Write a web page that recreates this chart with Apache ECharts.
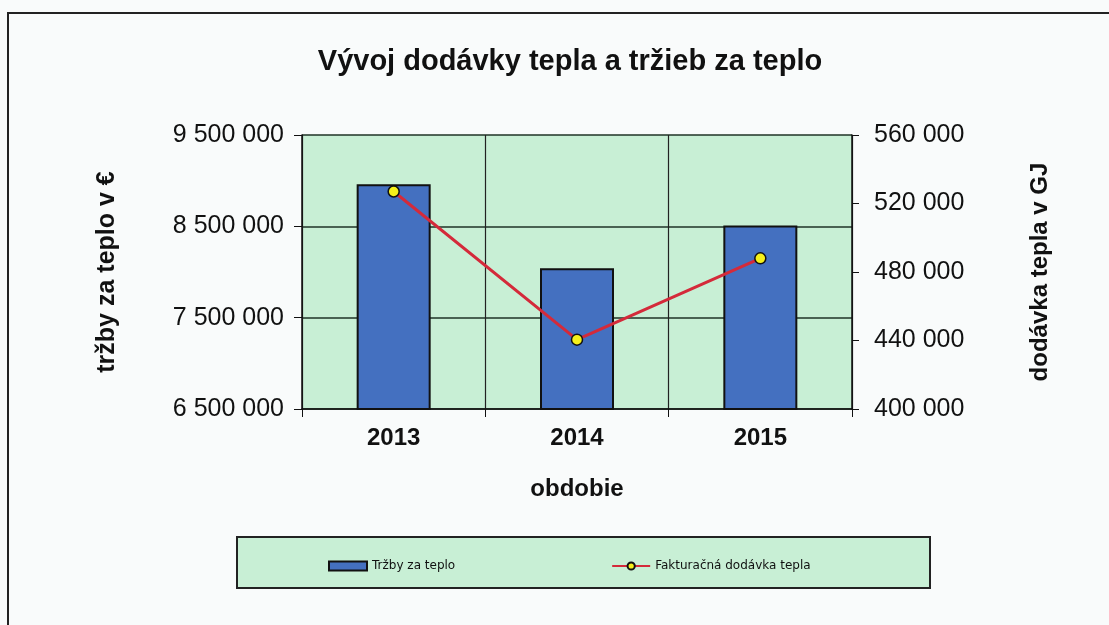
<!DOCTYPE html>
<html>
<head>
<meta charset="utf-8">
<script src="https://cdn.jsdelivr.net/npm/echarts@6/dist/echarts.min.js"></script>
<style>
  html, body { margin: 0; padding: 0; background: #f9fbfb; }
  #chart { width: 1109px; height: 625px; }
</style>
</head>
<body>
<div id="chart"></div>
<script>
const years = ["2013", "2014", "2015"];
const trzby = [8960000, 8040000, 8510000];
const dodavka = [527000, 440500, 488000];
const leftTicks = { min: 6500000, max: 9500000, interval: 1000000 };
const rightTicks = { min: 400000, max: 560000, interval: 40000 };

const fmt = (v) => String(v).replace(/\B(?=(\d{3})+(?!\d))/g, " ");
const font = "Liberation Sans, Arial, sans-serif";
const plotGreen = "#c8efd5";

const chart = echarts.init(document.getElementById("chart"));

chart.setOption({
  backgroundColor: "#f9fbfb",
  animation: false,
  title: {
    text: "Vývoj dodávky tepla a tržieb za teplo",
    left: 565,
    top: 42,
    textAlign: "center",
    textStyle: { fontFamily: font, fontSize: 29, fontWeight: "bold", color: "#111" }
  },
  graphic: [
    // outer chart frame
    { type: "rect", shape: { x: 8, y: 13, width: 1120, height: 640 }, style: { fill: "none", stroke: "#222", lineWidth: 2 }, z: 0 },
    // legend box
    { type: "rect", shape: { x: 237, y: 537, width: 693, height: 51 }, style: { fill: plotGreen, stroke: "#222", lineWidth: 2 }, z: 0 }
  ],
  legend: {
    left: 323,
    top: 555,
    itemWidth: 38,
    itemHeight: 9,
    itemGap: 156,
    textStyle: { fontFamily: "DejaVu Sans, sans-serif", fontSize: 12, color: "#111" },
    data: [
      { name: "Tržby za teplo", icon: "rect" },
      { name: "Fakturačná dodávka tepla" }
    ]
  },
  grid: { left: 302, right: 257, top: 135, bottom: 216, show: true, backgroundColor: plotGreen, borderWidth: 0 },
  xAxis: {
    type: "category",
    data: years,
    name: "obdobie",
    nameLocation: "middle",
    nameGap: 68,
    nameTextStyle: { fontFamily: font, fontSize: 24, fontWeight: "bold", color: "#111" },
    axisLine: { lineStyle: { color: "#111", width: 1.5 } },
    axisTick: { show: true, length: 8, lineStyle: { color: "#111" } },
    axisLabel: { margin: 17, fontFamily: font, fontSize: 24, fontWeight: "bold", color: "#111" },
    splitLine: { show: true, lineStyle: { color: "#222", width: 1.2 } }
  },
  yAxis: [
    {
      type: "value",
      min: leftTicks.min,
      max: leftTicks.max,
      interval: leftTicks.interval,
      name: "tržby za teplo v €",
      nameLocation: "middle",
      nameRotate: 90,
      nameGap: 182,
      nameTextStyle: { fontFamily: font, fontSize: 25, fontWeight: "bold", color: "#111" },
      axisLine: { show: true, lineStyle: { color: "#111", width: 1.5 } },
      axisTick: { show: true, length: 8, lineStyle: { color: "#111" } },
      axisLabel: { margin: 18, fontFamily: font, fontSize: 25, color: "#111", formatter: fmt },
      splitLine: { show: true, lineStyle: { color: "#1f3326", width: 1.5 } }
    },
    {
      type: "value",
      min: rightTicks.min,
      max: rightTicks.max,
      interval: rightTicks.interval,
      name: "dodávka tepla v GJ",
      nameLocation: "middle",
      nameRotate: 90,
      nameGap: 176,
      nameTextStyle: { fontFamily: font, fontSize: 24, fontWeight: "bold", color: "#111" },
      axisLine: { show: true, lineStyle: { color: "#111", width: 1.5 } },
      axisTick: { show: true, length: 7, lineStyle: { color: "#111" } },
      axisLabel: { margin: 22, fontFamily: font, fontSize: 25, color: "#111", formatter: fmt },
      splitLine: { show: false }
    }
  ],
  series: [
    {
      name: "Tržby za teplo",
      type: "bar",
      yAxisIndex: 0,
      barWidth: 74,
      data: trzby,
      itemStyle: { color: "#4470c0", borderColor: "#111", borderWidth: 2 }
    },
    {
      name: "Fakturačná dodávka tepla",
      type: "line",
      yAxisIndex: 1,
      data: dodavka,
      symbol: "circle",
      symbolSize: 11,
      lineStyle: { color: "#d42a3a", width: 3 },
      itemStyle: { color: "#f5f01a", borderColor: "#111", borderWidth: 1.5 },
      z: 5
    }
  ]
});
</script>
</body>
</html>
